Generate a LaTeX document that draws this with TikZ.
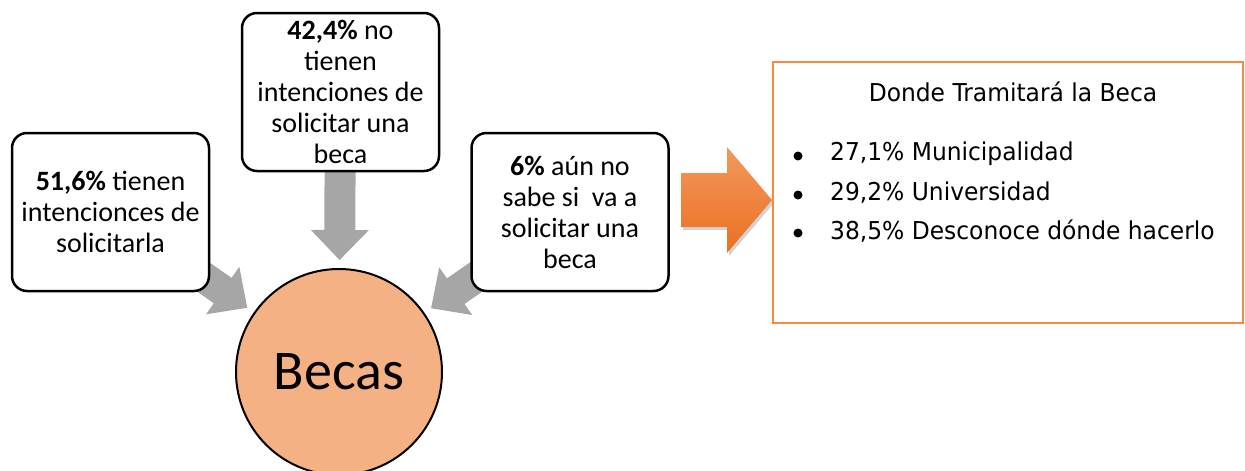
\documentclass[tikz,border=0pt]{standalone}
\usepackage{fontspec}
\setmainfont{Carlito}
\newfontfamily\tahoma[FakeStretch=0.95]{DejaVu Sans}
\usetikzlibrary{calc}
\definecolor{grayarrow}{RGB}{166,166,166}
\definecolor{circfill}{RGB}{244,177,131}
\definecolor{orangeline}{RGB}{243,140,60}
\definecolor{orangetop}{RGB}{243,152,92}
\definecolor{orangebot}{RGB}{234,112,34}
\tikzset{
  box/.style={draw=black, line width=2.5pt, rounded corners=15pt, fill=white,
    minimum width=197pt, minimum height=158pt, inner sep=0pt, align=center,
    font=\fontsize{28}{31}\selectfont},
  grayarr/.style={fill=grayarrow, draw=none},
  infotext/.style={font=\tahoma\fontsize{24.6}{28}\selectfont, inner sep=0pt},
  bulletdot/.style={circle, fill=black, inner sep=0pt, minimum size=9pt},
}
\begin{document}
\begin{tikzpicture}[x=1pt,y=-1pt]
\useasboundingbox (0,0) rectangle (1245,471);
\coordinate (c) at (339,372);
\coordinate (lb) at (110.5,212);
\coordinate (tb) at (340.5,92);
\coordinate (rb) at (570,212);
% gray arrows
\foreach \b in {lb,tb,rb}{
  \coordinate (T) at ($(c)!112pt!(\b)$);
  \coordinate (H) at ($(c)!142pt!(\b)$);
  \coordinate (E) at ($(c)!230pt!(\b)$);
  \fill[grayarr] ($(E)!15.5pt!90:(c)$) -- ($(H)!15.5pt!-90:(E)$) -- ($(H)!29pt!-90:(E)$)
     -- (T) -- ($(H)!29pt!90:(E)$) -- ($(H)!15.5pt!90:(E)$) -- ($(E)!15.5pt!-90:(c)$) -- cycle;
}
% circle
\node[circle, draw=black, line width=2pt, fill=circfill, minimum size=206pt, inner sep=0pt,
  font=\fontsize{56}{60}\selectfont] (becas) at (c) {Becas};
% boxes
\node[box] (left) at (lb) {\textbf{51,6\%} tienen\\intencionces de\\solicitarla};
\node[box] (top) at (tb) {\textbf{42,4\%} no\\tienen\\intenciones de\\solicitar una\\beca};
\node[box] (right) at (rb) {\textbf{6\%} aún no\\sabe si\ \ va a\\solicitar una\\beca};
% orange arrow
\fill[black!35, opacity=0.5] (683,176) -- (729,176) -- (729,150) -- (774,203) -- (729,256) -- (729,230) -- (683,230) -- cycle;
\shade[top color=orangetop, bottom color=orangebot] (681,173) -- (727,173) -- (727,147) -- (772,200) -- (727,253) -- (727,227) -- (681,227) -- cycle;
% info box
\draw[draw=orangeline, line width=2.5pt] (773,62) rectangle (1243,323);
\node[infotext] (title) at (1013,92) {Donde Tramitará la Beca};
\foreach \y/\t [count=\i] in {154/{27,1\% Municipalidad},193/{29,2\% Universidad},231/{38,5\% Desconoce dónde hacerlo}}{
  \node[bulletdot] (bul\i) at (798,\y+2) {};
  \node[infotext, anchor=west] (item\i) at (830,\y) {\t};
}
\end{tikzpicture}
\end{document}
